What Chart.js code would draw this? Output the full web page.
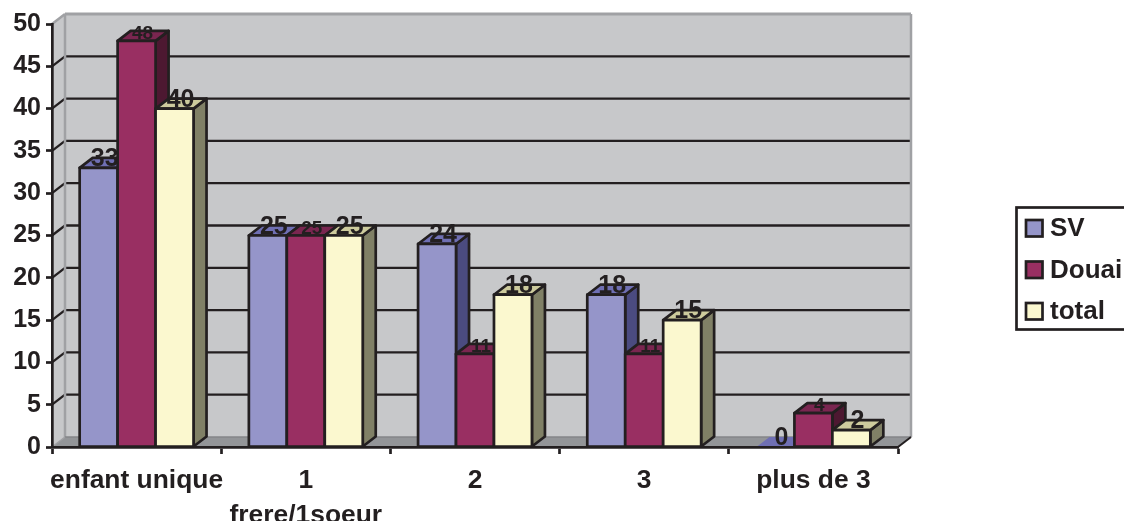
<!DOCTYPE html>
<html>
<head>
<meta charset="utf-8">
<title>Enfants par famille</title>
<script src="https://cdn.jsdelivr.net/npm/chart.js@4"></script>
<style>
    body { margin: 0; background: #fff; }
    canvas { display: block; }
</style>
</head>
<body>
<canvas id="familyChart" width="1124" height="521"></canvas>
<script>
    const categories = ['enfant unique', ['1', 'frere/1soeur'], '2', '3', 'plus de 3'];
    const svValues = [33, 25, 24, 18, 0];
    const douaiValues = [48, 25, 11, 11, 4];
    const totalValues = [40, 25, 18, 15, 2];

    const INK = '#231f20';
    const FONT = '"Liberation Sans", Arial, sans-serif';
    const DEPTH_X = 13;
    const DEPTH_Y = 10;
    const OUTLINE = 2.7;

    function poly(ctx, points, fill, stroke, width) {
        ctx.beginPath();
        points.forEach((p, i) => i ? ctx.lineTo(p[0], p[1]) : ctx.moveTo(p[0], p[1]));
        ctx.closePath();
        ctx.fillStyle = fill;
        ctx.fill();
        if (stroke) {
            ctx.strokeStyle = stroke;
            ctx.lineWidth = width;
            ctx.lineJoin = 'round';
            ctx.stroke();
        }
    }

    function line(ctx, x1, y1, x2, y2, color, width) {
        ctx.beginPath();
        ctx.moveTo(x1, y1);
        ctx.lineTo(x2, y2);
        ctx.strokeStyle = color;
        ctx.lineWidth = width;
        ctx.stroke();
    }

    // back wall, left wall, floor and the gridlines behind the bars
    const wallsPlugin = {
        id: 'walls',
        beforeDraw(chart) {
            const { ctx, chartArea: a, scales: { y } } = chart;
            const dx = DEPTH_X, dy = DEPTH_Y;
            const wall = '#c7c8ca', edge = '#a0a1a4';
            ctx.save();
            poly(ctx, [[a.left, a.top], [a.left + dx, a.top - dy], [a.left + dx, a.bottom - dy], [a.left, a.bottom]], wall);
            poly(ctx, [[a.left + dx, a.top - dy], [a.right + dx, a.top - dy], [a.right + dx, a.bottom - dy], [a.left + dx, a.bottom - dy]], wall);
            poly(ctx, [[a.left, a.bottom], [a.left + dx, a.bottom - dy], [a.right + dx, a.bottom - dy], [a.right, a.bottom]], '#939598');

            y.ticks.forEach(t => {
                const py = y.getPixelForValue(t.value);
                if (t.value === 0 || t.value === y.max) return;
                line(ctx, a.left, py, a.left + dx, py - dy, INK, 2.3);
                line(ctx, a.left + dx, py - dy, a.right + dx, py - dy, INK, 2.3);
            });

            line(ctx, a.left, a.top, a.left + dx, a.top - dy, edge, 2.5);
            line(ctx, a.left + dx, a.top - dy, a.right + dx, a.top - dy, edge, 3);
            line(ctx, a.left + dx, a.top - dy, a.left + dx, a.bottom - dy, edge, 2.5);
            line(ctx, a.right + dx, a.top - dy, a.right + dx, a.bottom - dy, edge, 2.5);
            line(ctx, a.left + dx, a.bottom - dy, a.right + dx, a.bottom - dy, '#858689', 1.5);
            line(ctx, a.left, a.bottom, a.left + dx, a.bottom - dy, edge, 1.5);
            line(ctx, a.right, a.bottom, a.right + dx, a.bottom - dy, INK, 2);
            ctx.restore();
        }
    };

    function drawFaces(ctx, ds, meta) {
        meta.data.forEach((bar, i) => {
            const l = bar.x - bar.width / 2, r = bar.x + bar.width / 2;
            const top = [[l, bar.y], [l + DEPTH_X, bar.y - DEPTH_Y], [r + DEPTH_X, bar.y - DEPTH_Y], [r, bar.y]];
            if (ds.data[i] === 0) {
                poly(ctx, top, ds.topColor);
                return;
            }
            poly(ctx, [[r, bar.y], [r + DEPTH_X, bar.y - DEPTH_Y], [r + DEPTH_X, bar.base - DEPTH_Y], [r, bar.base]], ds.sideColor, INK, OUTLINE);
            poly(ctx, top, ds.topColor, INK, OUTLINE);
        });
    }

    function drawOutlinesAndValues(ctx, ds, meta) {
        ctx.font = 'bold ' + ds.labelSize + 'px ' + FONT;
        ctx.textAlign = 'center';
        ctx.textBaseline = 'alphabetic';
        meta.data.forEach((bar, i) => {
            if (ds.data[i] !== 0) {
                ctx.strokeStyle = INK;
                ctx.lineWidth = OUTLINE;
                ctx.strokeRect(bar.x - bar.width / 2, bar.y, bar.width, bar.base - bar.y);
            }
            ctx.fillStyle = INK;
            ctx.fillText(ds.data[i], bar.x + 6, bar.y - 2);
        });
    }

    // series have to stack left to right so each one hides the side of the one before it,
    // chart.js would paint the first dataset last, so the loop is done here instead
    const boxPlugin = {
        id: 'boxes',
        beforeDatasetsDraw(chart) {
            const { ctx } = chart;
            chart.getSortedVisibleDatasetMetas().forEach(meta => {
                const ds = chart.data.datasets[meta.index];
                ctx.save();
                drawFaces(ctx, ds, meta);
                meta.controller.draw();
                drawOutlinesAndValues(ctx, ds, meta);
                ctx.restore();
            });
            return false;
        }
    };

    const legendPlugin = {
        id: 'boxLegend',
        afterDraw(chart) {
            const { ctx } = chart;
            ctx.save();
            ctx.strokeStyle = INK;
            ctx.lineWidth = OUTLINE;
            ctx.strokeRect(1016.5, 207.5, 120, 122);
            ctx.font = 'bold 26px ' + FONT;
            ctx.textBaseline = 'middle';
            chart.data.datasets.forEach((ds, i) => {
                const y = 228 + i * 41.5;
                ctx.fillStyle = ds.backgroundColor;
                ctx.fillRect(1026, y - 8, 16.5, 16.5);
                ctx.strokeRect(1026, y - 8, 16.5, 16.5);
                ctx.fillStyle = INK;
                ctx.fillText(ds.label, 1050, y + 1);
            });
            ctx.restore();
        }
    };

    const familyChart = new Chart(document.getElementById('familyChart'), {
        type: 'bar',
        data: {
            labels: categories,
            datasets: [
                { label: 'SV', data: svValues, backgroundColor: '#9595c9', topColor: '#6f6fb3', sideColor: '#4b4b80', labelSize: 25 },
                { label: 'Douai', data: douaiValues, backgroundColor: '#992f62', topColor: '#7a2650', sideColor: '#4d1831', labelSize: 19 },
                { label: 'total', data: totalValues, backgroundColor: '#fbf8cf', topColor: '#cdcb9d', sideColor: '#808066', labelSize: 25 }
            ]
        },
        plugins: [wallsPlugin, boxPlugin, legendPlugin],
        options: {
            responsive: false,
            animation: false,
            layout: { autoPadding: false, padding: { left: 0, top: 24, right: 226, bottom: 0 } },
            datasets: { bar: { categoryPercentage: 0.673, barPercentage: 1, borderWidth: 0 } },
            plugins: { legend: { display: false }, tooltip: { enabled: false } },
            scales: {
                x: {
                    afterFit(scale) { scale.height = 74; },
                    grid: { drawOnChartArea: false, tickLength: 7, tickColor: INK, tickWidth: OUTLINE },
                    border: { color: INK, width: OUTLINE, z: 1 },
                    ticks: {
                        autoSkip: false,
                        maxRotation: 0,
                        padding: 9,
                        color: INK,
                        font: { family: FONT, size: 26.4, weight: 'bold', lineHeight: 1.33 }
                    }
                },
                y: {
                    min: 0,
                    max: 50,
                    afterFit(scale) { scale.width = 52; },
                    grid: { drawOnChartArea: false, tickLength: 6, tickColor: INK, tickWidth: OUTLINE },
                    border: { color: INK, width: OUTLINE },
                    ticks: {
                        stepSize: 5,
                        padding: 5,
                        color: INK,
                        font: { family: FONT, size: 25, weight: 'bold' }
                    }
                }
            }
        }
    });
</script>
</body>
</html>
